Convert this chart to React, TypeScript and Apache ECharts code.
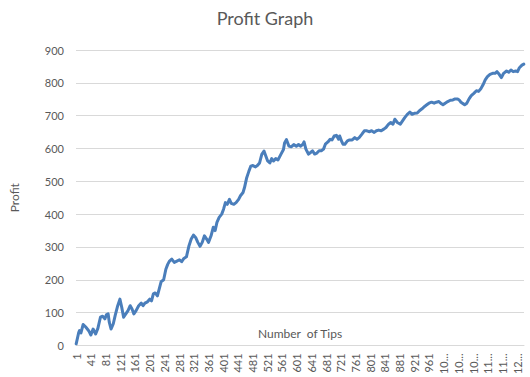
import React, { useEffect, useRef } from "react";
import * as echarts from "echarts";

const tipCount = 1219;
const tipLabels: string[] = Array.from({ length: tipCount }, (_, i) => String(i + 1));

const yTicks = [0, 100, 200, 300, 400, 500, 600, 700, 800, 900];

const tips: number[] = [
  1, 5, 8, 10, 14, 20, 27, 35, 41, 47, 54, 60, 67, 73, 79, 83, 88, 91, 96, 102,
  107, 114, 120, 125, 130, 136, 142, 148, 153, 158, 164, 171, 178, 183, 188, 195,
  201, 206, 211, 216, 222, 227, 232, 239, 245, 250, 255, 261, 268, 275, 282, 288,
  294, 301, 308, 314, 320, 326, 332, 338, 344, 350, 356, 361, 368, 374, 379, 384,
  390, 397, 402, 407, 412, 418, 423, 430, 436, 443, 448, 455, 459, 465, 471, 476,
  482, 489, 494, 500, 506, 512, 517, 522, 528, 533, 538, 544, 550, 558, 565, 568,
  573, 580, 586, 593, 600, 606, 612, 618, 621, 626, 633, 639, 644, 650, 656, 662,
  668, 674, 679, 686, 692, 697, 703, 709, 715, 718, 724, 727, 732, 739, 745, 752,
  759, 765, 771, 778, 785, 792, 798, 805, 812, 818, 824, 831, 838, 844, 851, 857,
  863, 868, 875, 883, 889, 895, 902, 909, 915, 921, 929, 935, 942, 949, 955, 961,
  968, 975, 981, 988, 995, 999, 1005, 1012, 1019, 1026, 1032, 1039, 1043, 1048,
  1052, 1058, 1064, 1070, 1076, 1083, 1090, 1096, 1102, 1108, 1114, 1120, 1127,
  1134, 1141, 1146, 1152, 1158, 1164, 1172, 1178, 1184, 1190, 1197, 1202, 1207,
  1214, 1219,
];

const profit: number[] = [
  5, 25, 40, 45, 38, 64, 56, 45, 32, 50, 35, 52, 86, 89, 81, 93, 96, 71, 50, 66,
  91, 121, 141, 116, 86, 96, 106, 121, 111, 96, 106, 121, 129, 121, 129, 133,
  141, 136, 157, 160, 151, 172, 194, 200, 232, 247, 257, 263, 253, 257, 261, 255,
  265, 270, 304, 324, 336, 329, 314, 302, 314, 334, 324, 314, 334, 360, 350, 375,
  390, 400, 415, 435, 430, 445, 433, 430, 435, 445, 456, 466, 481, 511, 531, 546,
  548, 544, 548, 556, 582, 592, 577, 562, 556, 569, 562, 569, 565, 582, 597, 617,
  627, 607, 605, 612, 607, 612, 607, 613, 620, 598, 583, 588, 593, 583, 586, 593,
  593, 598, 613, 620, 628, 626, 638, 640, 628, 638, 620, 613, 613, 623, 626, 626,
  633, 628, 633, 643, 654, 654, 651, 654, 649, 654, 656, 654, 659, 664, 674, 679,
  674, 689, 679, 674, 684, 694, 704, 711, 704, 707, 708, 715, 721, 728, 733, 738,
  741, 738, 741, 743, 736, 733, 738, 743, 747, 748, 751, 751, 748, 741,
  738, 733, 738, 751, 761, 768, 776, 774, 782, 794, 809, 819, 826,
  829, 829, 834, 826, 816, 829, 836, 832, 839, 834, 836, 834, 846,
  854, 857,
];

export default function App() {
  const ref = useRef<HTMLDivElement>(null);
  useEffect(() => {
    if (!ref.current) return;
    const chart = echarts.init(ref.current, undefined, { renderer: "svg" });
    const font = "Lato, 'Noto Sans', sans-serif";
    chart.setOption({
      animation: false,
      backgroundColor: "#ffffff",
      textStyle: { fontFamily: font },
      title: {
        text: "Profit Graph",
        left: "center",
        top: 4,
        textStyle: { fontFamily: font, fontSize: 18, fontWeight: "normal", color: "#595959" },
      },
      grid: { left: 64, right: 6, top: 50, bottom: 31, containLabel: false },
      xAxis: {
        type: "category",
        data: tipLabels,
        boundaryGap: true,
        name: "Number  of Tips",
        nameLocation: "middle",
        nameGap: -18,
        nameTextStyle: { fontFamily: font, fontSize: 12, color: "#595959" },
        axisLine: { show: true, lineStyle: { color: "#d9d9d9", width: 1 } },
        axisTick: { show: false },
        axisLabel: {
          interval: 39,
          rotate: 90,
          margin: 8,
          fontSize: 11,
          color: "#595959",
          fontFamily: font,
          formatter: (v: string) => (v.length > 3 ? v.slice(0, 2) + "..." : v),
        },
        splitLine: { show: false },
      },
      yAxis: {
        type: "value",
        min: yTicks[0],
        max: yTicks[yTicks.length - 1],
        interval: 100,
        name: "Profit",
        nameLocation: "middle",
        nameGap: 56,
        nameTextStyle: { fontFamily: font, fontSize: 12, color: "#595959" },
        axisLine: { show: false },
        axisTick: { show: false },
        axisLabel: { fontSize: 11, color: "#595959", margin: 12, fontFamily: font },
        splitLine: { show: true, lineStyle: { color: "#d9d9d9", width: 1 } },
      },
      series: [
        {
          type: "line",
          data: tips.map((t, i) => [t - 1, profit[i]]),
          symbol: "none",
          lineStyle: { color: "#4A7EBB", width: 3, join: "round", cap: "round" },
          itemStyle: { color: "#4A7EBB" },
        },
      ],
    });
    return () => chart.dispose();
  }, []);
  return (
    <div
      ref={ref}
      style={{ position: "absolute", left: 0, top: 0, width: 530, height: 377 }}
    />
  );
}
